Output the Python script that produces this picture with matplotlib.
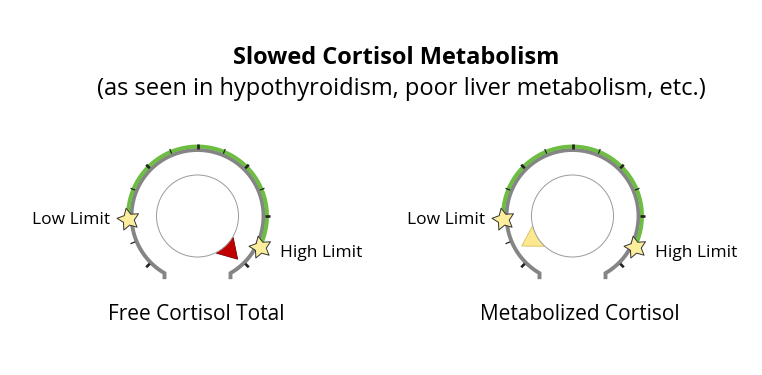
import numpy as np
import matplotlib
matplotlib.use("Agg")
import matplotlib.pyplot as plt
from matplotlib.patches import Polygon, Circle
from matplotlib.path import Path
from matplotlib.markers import MarkerStyle

# ---------------- data ----------------
title = "Slowed Cortisol Metabolism"
subtitle = "(as seen in hypothyroidism, poor liver metabolism, etc.)"
gauge_names = ["Free Cortisol Total", "Metabolized Cortisol"]
pointer_values = [95.7, 9.8]
low_limits = [19.2, 19.2]
high_limits = [88.7, 88.7]
limit_labels = ["Low Limit", "High Limit"]
scale_range = [0, 100]
tick_values = [5, 12.5, 20, 27.5, 35, 42.5, 50, 57.5, 65, 72.5, 80, 87.5, 95]
major_ticks = [5, 20, 35, 50, 65, 80, 95]

# ---------------- style / layout ----------------
W, H = 762, 375
FONT = ["Open Sans", "DejaVu Sans"]
centers = [(197.5, H - 216), (572.5, H - 216)]
name_x = [196.5, 579.5]
pointer_colors = [("#c00000", "#7a0000"), ("#fbe88f", "#d9c060")]
START, SPAN = 240.0, 300.0
R_GRAY, R_GREEN = 66.0, 69.5
R_INNER = 41.0

def ang(v):
    return np.deg2rad(START - SPAN * (v - scale_range[0]) / (scale_range[1] - scale_range[0]))

# star marker path
k = np.arange(10)
rr = np.where(k % 2 == 0, 1.0, 0.5)
th = np.pi / 2 + k * np.pi / 5 + np.deg2rad(12)
star_verts = np.column_stack([rr * np.cos(th), rr * np.sin(th)])
star_path = Path(np.vstack([star_verts, star_verts[:1]]), closed=True)

fig = plt.figure(figsize=(W / 100, H / 100), dpi=100)
ax = fig.add_axes([0, 0, 1, 1])
ax.set_xlim(0, W)
ax.set_ylim(0, H)
ax.axis("off")

ax.text(396.5, H - 58, title, ha="center", va="center", fontsize=17,
        fontweight="bold", family=FONT)
ax.text(401.5, H - 89, subtitle, ha="center", va="center", fontsize=17,
        family=FONT)

for i, (cx, cy) in enumerate(centers):
    # gray scale arc with feet
    t = np.linspace(ang(scale_range[0]), ang(scale_range[1]), 400)
    xs = cx + R_GRAY * np.cos(t)
    ys = cy + R_GRAY * np.sin(t)
    xs = np.concatenate([[xs[0]], xs, [xs[-1]]])
    ys = np.concatenate([[ys[0] - 6], ys, [ys[-1] - 6]])
    ax.plot(xs, ys, color="#858585", lw=2.8, solid_capstyle="butt",
            solid_joinstyle="miter", zorder=2)
    # green normal range
    t = np.linspace(ang(low_limits[i]), ang(high_limits[i]), 300)
    ax.plot(cx + R_GREEN * np.cos(t), cy + R_GREEN * np.sin(t),
            color="#6cbd42", lw=2.8, solid_capstyle="butt", zorder=2)
    # ticks
    for v in tick_values:
        a = ang(v)
        major = v in major_ticks
        r0, r1 = 67.5, 72.5
        ax.plot([cx + r0 * np.cos(a), cx + r1 * np.cos(a)],
                [cy + r0 * np.sin(a), cy + r1 * np.sin(a)],
                color="#222222", lw=1.9 if major else 0.9,
                solid_capstyle="butt", zorder=3)
    # pointer
    a = ang(pointer_values[i])
    d = np.deg2rad(16)
    tri = [(cx + 59 * np.cos(a), cy + 59 * np.sin(a)),
           (cx + 41.7 * np.cos(a + d), cy + 41.7 * np.sin(a + d)),
           (cx + 35 * np.cos(a), cy + 35 * np.sin(a)),
           (cx + 41.7 * np.cos(a - d), cy + 41.7 * np.sin(a - d))]
    fc, ec = pointer_colors[i]
    ax.add_patch(Polygon(tri, closed=True, facecolor=fc, edgecolor=ec,
                         lw=0.6, zorder=4))
    ax.add_patch(Circle((cx, cy), R_INNER, facecolor="white",
                        edgecolor="#9a9a9a", lw=0.7, zorder=5))
    # limit stars
    for j, v in enumerate([low_limits[i], high_limits[i]]):
        a = ang(v)
        sx, sy = cx + R_GREEN * np.cos(a), cy + R_GREEN * np.sin(a)
        ax.plot([sx], [sy], marker=MarkerStyle(star_path), markersize=16.5,
                markerfacecolor="#fcee9c", markeredgecolor="#333333",
                markeredgewidth=0.7, zorder=6)
        if j == 0:
            ax.text(sx - 18, sy - 1, limit_labels[0], ha="right", va="center",
                    fontsize=12.5, family=FONT)
        else:
            ax.text(sx + 20, sy - 6, limit_labels[1], ha="left", va="center",
                    fontsize=12.5, family=FONT)
    # gauge name
    ax.text(name_x[i], H - 315, gauge_names[i], ha="center", va="center",
            fontsize=15, family=FONT)

fig.savefig("out.png", dpi=100)
